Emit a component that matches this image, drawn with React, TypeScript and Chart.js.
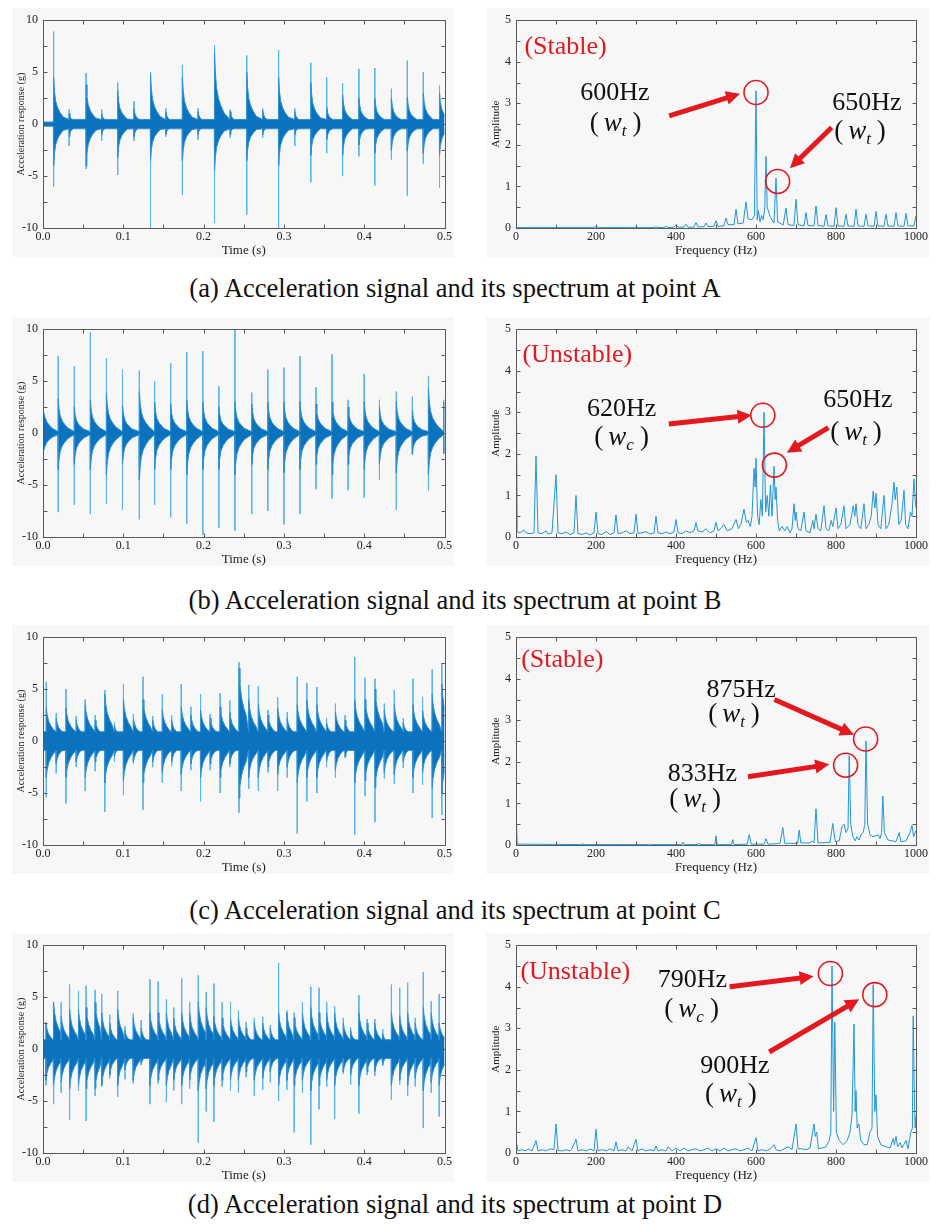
import React, { useEffect, useRef } from 'react';
import { Chart, registerables } from 'chart.js';

Chart.register(...registerables);

const SERIF = '"Liberation Serif", "Times New Roman", Times, serif';
const RED = '#e3191f';
const FRAME = '#5a5a5a';
const PANEL_BG = '#f7f7f7';
const DENSE = '#0b73bd';
const DENSE_EDGE = '#2f8fd2';
const SPIKE = '#5cb6e8';
const SPEC_LINE = '#2196d9';

// ---------- tick labels ----------
const timeTicks = ['0.0', '0.1', '0.2', '0.3', '0.4', '0.5'];
const accelTicks = ['-10', '-5', '0', '5', '10'];
const freqTicks = ['0', '200', '400', '600', '800', '1000'];
const ampTicks = ['0', '1', '2', '3', '4', '5'];

const captions = [
  '(a) Acceleration signal and its spectrum at point A',
  '(b) Acceleration signal and its spectrum at point B',
  '(c) Acceleration signal and its spectrum at point C',
  '(d) Acceleration signal and its spectrum at point D',
];

// ---------- time signal A ----------
const impactTimeA = [0.0132, 0.0326, 0.0537, 0.0731, 0.093, 0.1132, 0.1339, 0.1529, 0.1736, 0.193, 0.2136, 0.2331, 0.2537, 0.2736, 0.2934, 0.3136, 0.3335, 0.3533, 0.3731, 0.3934, 0.4132, 0.4339, 0.4537, 0.4736, 0.4938];
const spikeUpA = [8.9, 1.4, 4.9, 1.4, 4.0, 2.2, 5.0, 1.5, 5.7, 1.5, 7.6, 1.4, 6.6, 1.5, 7.1, 1.5, 5.9, 4.5, 3.9, 5.3, 5.4, 3.4, 6.1, 5.0, 3.7];
const spikeDownA = [-6.0, -2.1, -4.3, -1.6, -4.9, -1.6, -10, -1.2, -6.8, -1.5, -9.5, -1.3, -8.7, -1.3, -10, -2.1, -5.6, -2.8, -5.0, -3.1, -5.9, -3.4, -6.9, -3.8, -6.1];
const denseUpA = [4.5, 1.0, 3.8, 1.0, 3.2, 1.5, 4.8, 1.2, 4.5, 1.2, 7.0, 1.2, 5.0, 1.3, 4.5, 1.2, 4.0, 1.6, 2.8, 2.5, 2.5, 2.5, 2.6, 3.0, 3.0];
const denseDownA = [-4.0, -1.2, -4.0, -1.0, -3.2, -1.2, -3.5, -1.0, -3.5, -1.0, -4.5, -1.0, -3.5, -1.0, -4.0, -1.0, -3.0, -1.5, -3.0, -2.0, -2.8, -2.5, -2.6, -2.8, -3.0];

// ---------- time signal B ----------
const impactTimeB = [0.0, 0.019, 0.039, 0.059, 0.079, 0.099, 0.12, 0.139, 0.159, 0.179, 0.199, 0.219, 0.239, 0.26, 0.28, 0.3, 0.32, 0.34, 0.36, 0.38, 0.4, 0.419, 0.44, 0.46, 0.48, 0.499];
const spikeUpB = [7.5, 7.4, 6.4, 9.7, 7.2, 6.1, 6.0, 5.0, 6.7, 7.8, 7.9, 4.5, 10, 3.9, 6.1, 6.3, 7.4, 4.4, 7.6, 3.2, 5.7, 3.2, 4.0, 3.5, 5.5, 3.2];
const spikeDownB = [-3.0, -7.6, -6.9, -7.8, -6.8, -7.4, -8.3, -6.9, -8.1, -8.7, -9.8, -9.1, -9.4, -7.8, -7.5, -8.8, -7.8, -5.4, -6.3, -5.5, -6.2, -4.5, -7.4, -2.1, -5.5, -2.0];
const denseUpB = [3.0, 3.3, 2.5, 3.2, 3.8, 2.7, 4.0, 3.0, 2.8, 3.2, 3.0, 2.5, 3.0, 2.8, 3.0, 3.0, 3.0, 2.8, 3.0, 2.5, 3.0, 2.5, 3.0, 2.2, 4.3, 3.0];
const denseDownB = [-2.5, -3.5, -3.0, -3.5, -4.0, -3.0, -4.5, -3.5, -3.5, -4.0, -3.5, -3.5, -4.0, -3.0, -3.5, -3.8, -3.5, -3.0, -4.0, -3.0, -3.5, -3.0, -3.8, -2.0, -4.0, -2.0];

// ---------- time signal C ----------
const impactTimeC = [0.0041, 0.0165, 0.0286, 0.0414, 0.0526, 0.065, 0.077, 0.089, 0.1002, 0.1126, 0.1246, 0.1366, 0.1486, 0.1602, 0.1722, 0.1842, 0.1962, 0.2082, 0.2206, 0.2326, 0.2442, 0.2562, 0.2682, 0.2802, 0.2922, 0.3042, 0.3166, 0.3286, 0.3411, 0.3531, 0.3642, 0.3762, 0.3882, 0.4011, 0.4135, 0.4251, 0.4375, 0.4487, 0.4607, 0.4727, 0.4847, 0.4967];
const spikeUpC = [5.7, 2.7, 5.0, 2.4, 4.0, 2.5, 4.9, 1.8, 5.5, 2.6, 6.2, 2.4, 4.5, 2.5, 5.5, 3.3, 4.5, 2.6, 4.6, 3.9, 7.6, 5.4, 5.3, 3.0, 4.2, 2.8, 6.2, 5.6, 5.2, 2.2, 3.6, 2.5, 8.1, 6.1, 6.0, 3.6, 4.9, 2.2, 6.0, 4.2, 6.9, 7.5];
const spikeDownC = [-5.4, -3.1, -6.0, -2.5, -4.8, -2.9, -6.8, -2.0, -5.2, -2.2, -6.6, -2.5, -4.0, -2.4, -4.8, -2.8, -5.8, -2.8, -5.0, -2.5, -6.9, -4.6, -4.8, -3.0, -4.8, -3.5, -8.9, -5.8, -5.0, -2.5, -3.5, -1.6, -9.0, -5.3, -7.8, -3.6, -4.1, -2.6, -5.0, -4.2, -7.4, -7.1];
const denseUpC = [3.2, 2.2, 3.2, 2.0, 3.5, 2.0, 4.5, 1.5, 4.0, 2.2, 4.0, 2.0, 3.0, 2.0, 3.3, 2.5, 3.0, 2.2, 3.3, 2.8, 7.0, 4.0, 3.5, 2.5, 3.2, 2.2, 3.5, 4.0, 3.5, 1.8, 2.8, 2.0, 4.0, 4.0, 5.0, 3.0, 3.5, 1.8, 3.5, 3.0, 4.5, 5.5];
const denseDownC = [-3.5, -2.2, -3.5, -2.0, -3.5, -2.0, -4.0, -1.5, -3.8, -2.0, -4.0, -2.0, -3.0, -2.0, -3.2, -2.2, -3.5, -2.2, -3.5, -2.2, -5.5, -3.5, -3.5, -2.5, -3.2, -2.5, -4.0, -3.5, -3.5, -2.0, -2.8, -1.5, -4.0, -3.8, -4.5, -3.0, -3.2, -2.0, -3.5, -3.0, -4.5, -5.0];

// ---------- time signal D ----------
const impactTimeD = [0.0037, 0.0132, 0.0227, 0.0331, 0.0442, 0.0537, 0.0649, 0.0731, 0.0831, 0.093, 0.1021, 0.1124, 0.1223, 0.1331, 0.1434, 0.1537, 0.1628, 0.1727, 0.1826, 0.1934, 0.2033, 0.2128, 0.2231, 0.2335, 0.2434, 0.2529, 0.2632, 0.2736, 0.2831, 0.2934, 0.3037, 0.3128, 0.3231, 0.3335, 0.3438, 0.3533, 0.3632, 0.374, 0.3831, 0.3934, 0.4037, 0.4132, 0.4231, 0.4339, 0.4442, 0.4541, 0.4636, 0.4736, 0.4835, 0.4934];
const spikeUpD = [2.6, 4.5, 4.5, 6.2, 5.6, 6.1, 5.7, 5.3, 3.3, 5.6, 2.2, 3.4, 2.8, 6.7, 6.5, 4.8, 4.0, 6.8, 4.5, 7.1, 5.5, 6.3, 4.5, 4.5, 3.7, 2.6, 3.0, 3.1, 2.3, 8.3, 3.7, 3.5, 4.5, 6.0, 5.9, 4.5, 4.1, 3.0, 2.1, 5.2, 2.9, 2.9, 1.9, 6.2, 5.9, 6.4, 3.0, 7.4, 4.6, 5.3];
const spikeDownD = [-3.5, -5.3, -4.2, -6.8, -4.0, -6.9, -4.5, -3.6, -2.8, -4.6, -2.9, -3.3, -1.5, -5.3, -3.3, -5.1, -4.0, -5.3, -3.8, -9.0, -6.0, -7.0, -3.6, -4.0, -4.2, -2.7, -4.5, -3.9, -3.2, -5.0, -3.9, -8.0, -4.2, -9.2, -5.8, -3.6, -6.7, -2.4, -3.4, -6.2, -2.5, -2.6, -1.6, -4.9, -3.4, -4.5, -3.6, -7.6, -4.2, -6.5];
const denseUpD = [2.5, 4.5, 3.2, 3.8, 3.8, 4.0, 4.5, 3.5, 2.5, 3.8, 1.8, 3.0, 2.0, 3.5, 3.5, 3.5, 3.0, 3.5, 3.5, 4.5, 4.0, 3.2, 3.0, 3.0, 3.0, 2.0, 2.5, 2.5, 2.0, 3.5, 3.5, 3.0, 3.5, 4.0, 3.5, 3.5, 3.5, 2.5, 1.8, 3.5, 2.5, 2.5, 1.5, 3.5, 3.2, 3.5, 2.5, 4.0, 3.5, 2.5];
const denseDownD = [-3.0, -3.5, -3.2, -3.8, -3.5, -3.8, -3.8, -3.5, -2.5, -3.5, -2.0, -3.0, -1.5, -3.5, -3.0, -3.5, -3.0, -3.5, -3.0, -4.0, -3.8, -3.5, -3.0, -3.0, -3.0, -2.2, -3.0, -2.8, -2.2, -3.5, -3.0, -3.5, -3.0, -4.0, -3.5, -3.0, -3.5, -2.2, -2.5, -3.5, -2.2, -2.2, -1.5, -3.5, -3.0, -3.5, -2.8, -4.0, -3.2, -3.5];

// residual vibration level between impacts (g), and level before the first impact
const residualLevel = [0.45, 0.15, 0.9, 0.9];
const startLevel = [0.2, 0.15, 0.9, 0.9];

// decay shape of the ringing after an impact (seconds after impact, fraction of peak)
const decayOffsetsFast = [0, 0.001, 0.0025, 0.005, 0.008, 0.012];
const decayFractionsFast = [1, 0.72, 0.5, 0.35, 0.25, 0.15];
const decayOffsetsSlow = [0, 0.001, 0.003, 0.006, 0.009];
const decayFractionsSlow = [1, 0.8, 0.6, 0.45, 0.35];

// ---------- spectra: [frequency Hz, amplitude] vertices ----------
const spectrumA: [number, number][] = [
  [0, 0.01], [190, 0.01], [200, 0.03], [210, 0.01], [245, 0.01], [250, 0.02], [255, 0.01], [295, 0.01], [300, 0.02], [305, 0.01],
  [345, 0.01], [350, 0.03], [355, 0.01], [370, 0.01], [375, 0.04], [380, 0.01], [395, 0.02], [400, 0.08], [405, 0.02], [420, 0.02],
  [425, 0.09], [430, 0.02], [445, 0.02], [450, 0.13], [455, 0.03], [470, 0.03], [475, 0.12], [480, 0.03], [495, 0.04], [500, 0.18],
  [505, 0.04], [520, 0.05], [525, 0.24], [530, 0.08], [545, 0.08], [550, 0.45], [555, 0.1], [568, 0.12], [575, 0.63], [580, 0.22],
  [590, 0.2], [596, 0.3], [600, 3.3], [603, 0.2], [606, 0.42], [610, 0.15], [614, 0.3], [618, 0.2], [622, 0.5], [625, 1.72],
  [628, 0.5], [635, 0.28], [645, 0.12], [650, 1.2], [654, 0.15], [668, 0.07], [675, 0.48], [680, 0.08], [695, 0.06], [700, 0.69],
  [705, 0.08], [720, 0.05], [725, 0.37], [730, 0.06], [745, 0.05], [750, 0.53], [755, 0.06], [770, 0.04], [775, 0.32], [780, 0.05],
  [795, 0.04], [800, 0.49], [805, 0.05], [820, 0.04], [825, 0.33], [830, 0.05], [845, 0.04], [850, 0.45], [855, 0.05], [870, 0.04],
  [875, 0.33], [880, 0.05], [895, 0.04], [900, 0.4], [905, 0.05], [920, 0.04], [925, 0.33], [930, 0.05], [945, 0.04], [950, 0.37],
  [955, 0.05], [970, 0.04], [975, 0.35], [980, 0.05], [995, 0.05], [1000, 0.3],
];

const spectrumB: [number, number][] = [
  [0, 5.0], [3, 0.12], [10, 0.1], [20, 0.17], [25, 0.1], [35, 0.08], [45, 0.1], [50, 1.95], [55, 0.1], [65, 0.08], [75, 0.15],
  [80, 0.07], [90, 0.1], [100, 1.5], [105, 0.1], [115, 0.08], [125, 0.12], [135, 0.06], [145, 0.1], [150, 1.0], [155, 0.08],
  [165, 0.06], [175, 0.1], [185, 0.05], [195, 0.1], [200, 0.6], [205, 0.08], [215, 0.06], [225, 0.13], [235, 0.06], [245, 0.1],
  [250, 0.53], [255, 0.08], [265, 0.1], [275, 0.15], [285, 0.08], [295, 0.1], [300, 0.55], [305, 0.08], [315, 0.1], [325, 0.13],
  [335, 0.07], [345, 0.1], [350, 0.5], [355, 0.1], [365, 0.08], [375, 0.12], [385, 0.08], [395, 0.12], [400, 0.42], [405, 0.1],
  [415, 0.08], [425, 0.15], [435, 0.1], [445, 0.15], [450, 0.35], [455, 0.15], [465, 0.12], [475, 0.2], [485, 0.1], [495, 0.15],
  [500, 0.35], [505, 0.15], [512, 0.2], [520, 0.3], [528, 0.15], [540, 0.2], [550, 0.42], [556, 0.2], [562, 0.3], [570, 0.67],
  [576, 0.35], [580, 0.4], [586, 0.25], [590, 0.5], [595, 1.65], [598, 1.2], [600, 1.9], [604, 0.5], [608, 0.3], [612, 0.9],
  [616, 0.5], [620, 3.0], [624, 0.6], [628, 1.0], [632, 0.5], [636, 1.25], [640, 0.5], [645, 1.7], [648, 0.9], [650, 1.2],
  [654, 0.4], [658, 0.15], [665, 0.25], [672, 0.15], [678, 0.25], [685, 0.1], [690, 0.2], [695, 0.8], [698, 0.4], [700, 0.6],
  [705, 0.2], [712, 0.15], [720, 0.6], [725, 0.15], [735, 0.1], [742, 0.4], [745, 0.2], [750, 0.55], [755, 0.2], [762, 0.15],
  [770, 0.75], [775, 0.2], [782, 0.15], [788, 0.4], [792, 0.25], [800, 0.7], [805, 0.2], [812, 0.3], [820, 0.75], [825, 0.2],
  [835, 0.3], [843, 0.75], [847, 0.5], [850, 0.8], [855, 0.3], [862, 0.2], [870, 0.8], [875, 0.2], [882, 0.3], [888, 0.5],
  [893, 1.1], [897, 0.7], [900, 1.05], [905, 0.3], [912, 0.2], [920, 1.0], [925, 0.2], [932, 0.3], [940, 0.8], [945, 1.32],
  [948, 0.9], [952, 1.2], [957, 0.3], [963, 0.4], [970, 1.12], [974, 0.3], [980, 0.2], [986, 0.6], [990, 0.5], [995, 1.4],
  [998, 0.9], [1000, 0.7],
];

const spectrumC: [number, number][] = [
  [0, 0.9], [3, 0.02], [165, 0.01], [167, 0.03], [170, 0.01], [248, 0.01], [250, 0.02], [252, 0.01], [331, 0.01], [333, 0.03],
  [336, 0.01], [414, 0.01], [417, 0.07], [420, 0.01], [455, 0.01], [458, 0.05], [461, 0.01], [497, 0.01], [500, 0.22], [503, 0.01],
  [539, 0.01], [542, 0.13], [545, 0.01], [578, 0.02], [583, 0.25], [588, 0.02], [620, 0.02], [625, 0.15], [630, 0.02], [650, 0.03],
  [660, 0.04], [667, 0.42], [672, 0.04], [704, 0.04], [708, 0.36], [712, 0.05], [735, 0.05], [740, 0.1], [745, 0.05], [750, 0.87],
  [755, 0.05], [785, 0.06], [792, 0.52], [798, 0.08], [808, 0.1], [815, 0.45], [820, 0.5], [825, 0.3], [830, 0.4], [833, 2.15],
  [837, 0.5], [842, 0.2], [848, 0.1], [852, 0.2], [858, 0.12], [862, 0.25], [868, 0.3], [872, 0.5], [875, 2.5], [879, 0.5],
  [885, 0.25], [892, 0.2], [900, 0.22], [905, 0.25], [910, 0.15], [914, 0.3], [917, 1.18], [921, 0.3], [930, 0.12], [950, 0.08],
  [958, 0.3], [962, 0.08], [975, 0.1], [985, 0.3], [990, 0.47], [994, 0.2], [1000, 0.35],
];

const spectrumD: [number, number][] = [
  [0, 0.3], [5, 0.05], [15, 0.08], [25, 0.05], [30, 0.1], [40, 0.05], [50, 0.3], [55, 0.05], [65, 0.08], [75, 0.05], [85, 0.1],
  [95, 0.08], [100, 0.7], [105, 0.06], [115, 0.05], [125, 0.08], [135, 0.05], [140, 0.1], [150, 0.33], [155, 0.05], [165, 0.08],
  [175, 0.05], [185, 0.1], [195, 0.05], [200, 0.57], [205, 0.05], [215, 0.08], [225, 0.05], [235, 0.1], [245, 0.05], [250, 0.27],
  [255, 0.05], [265, 0.08], [275, 0.05], [280, 0.15], [290, 0.05], [300, 0.33], [305, 0.05], [315, 0.1], [325, 0.05], [335, 0.08],
  [345, 0.05], [350, 0.17], [355, 0.05], [365, 0.08], [375, 0.05], [380, 0.15], [390, 0.05], [400, 0.12], [410, 0.05], [420, 0.12],
  [430, 0.05], [440, 0.08], [450, 0.1], [460, 0.05], [470, 0.08], [480, 0.12], [490, 0.05], [500, 0.1], [510, 0.05], [520, 0.12],
  [530, 0.05], [540, 0.08], [550, 0.1], [560, 0.05], [570, 0.08], [580, 0.12], [590, 0.05], [600, 0.37], [605, 0.05], [615, 0.08],
  [625, 0.05], [635, 0.1], [645, 0.2], [650, 0.08], [660, 0.05], [670, 0.1], [680, 0.15], [690, 0.08], [700, 0.7], [705, 0.1],
  [715, 0.1], [725, 0.08], [735, 0.12], [745, 0.7], [748, 0.4], [752, 0.5], [756, 0.1], [765, 0.12], [775, 0.15], [783, 0.3],
  [787, 0.5], [790, 4.5], [794, 1.0], [797, 3.15], [801, 0.5], [808, 0.3], [818, 0.2], [828, 0.3], [835, 0.5], [840, 0.9],
  [845, 3.1], [848, 1.0], [850, 1.5], [853, 0.6], [857, 0.7], [862, 0.3], [870, 0.2], [878, 0.2], [885, 0.5], [890, 0.6],
  [893, 4.05], [897, 1.0], [900, 1.4], [904, 0.4], [912, 0.2], [925, 0.15], [935, 0.12], [943, 0.35], [946, 0.2], [950, 0.4],
  [954, 0.15], [960, 0.25], [965, 0.12], [975, 0.3], [980, 0.1], [987, 0.5], [991, 0.6], [993, 3.3], [996, 1.3], [998, 0.6],
  [1000, 0.9],
];

// ---------- spectrum annotations (data coordinates) ----------
type Note = {
  state: { text: string; f: number; a: number };
  labels: { text: string; sub: string; f: number; a: number; subF: number; subA: number }[];
  circles: { f: number; a: number }[];
  arrows: { f1: number; a1: number; f2: number; a2: number }[];
};

const notesA: Note = {
  state: { text: '(Stable)', f: 21, a: 4.36 },
  labels: [
    { text: '600Hz', sub: 't', f: 247, a: 3.25, subF: 249, subA: 2.54 },
    { text: '650Hz', sub: 't', f: 877, a: 3.01, subF: 860, subA: 2.37 },
  ],
  circles: [{ f: 600, a: 3.26 }, { f: 654, a: 1.12 }],
  arrows: [{ f1: 383, a1: 2.7, f2: 560, a2: 3.23 }, { f1: 789, a1: 2.42, f2: 685, a2: 1.44 }],
};
const notesB: Note = {
  state: { text: '(Unstable)', f: 16, a: 4.37 },
  labels: [
    { text: '620Hz', sub: 'c', f: 264, a: 3.08, subF: 264, subA: 2.42 },
    { text: '650Hz', sub: 't', f: 855, a: 3.29, subF: 850, subA: 2.54 },
  ],
  circles: [{ f: 617, a: 2.93 }, { f: 646, a: 1.73 }],
  arrows: [{ f1: 382, a1: 2.72, f2: 589, a2: 2.93 }, { f1: 781, a1: 2.63, f2: 677, a2: 2.03 }],
};
const notesC: Note = {
  state: { text: '(Stable)', f: 13, a: 4.45 },
  labels: [
    { text: '875Hz', sub: 't', f: 563, a: 3.73, subF: 545, subA: 3.18 },
    { text: '833Hz', sub: 't', f: 466, a: 1.71, subF: 448, subA: 1.12 },
  ],
  circles: [{ f: 874, a: 2.55 }, { f: 824, a: 1.92 }],
  arrows: [{ f1: 646, a1: 3.5, f2: 845, a2: 2.65 }, { f1: 580, a1: 1.64, f2: 783, a2: 1.94 }],
};
const notesD: Note = {
  state: { text: '(Unstable)', f: 11, a: 4.36 },
  labels: [
    { text: '790Hz', sub: 'c', f: 441, a: 4.15, subF: 439, subA: 3.49 },
    { text: '900Hz', sub: 't', f: 547, a: 2.08, subF: 537, subA: 1.44 },
  ],
  circles: [{ f: 786, a: 4.32 }, { f: 897, a: 3.81 }],
  arrows: [{ f1: 534, a1: 4.0, f2: 744, a2: 4.25 }, { f1: 633, a1: 2.43, f2: 858, a2: 3.7 }],
};

// ---------- layout ----------
const ROW_TOPS = [16, 325, 633, 941];
const CAPTION_BASELINES = [297, 609, 919, 1213];
const LEFT_CANVAS_X = 12;
const LEFT_CANVAS_W = 442;
const RIGHT_CANVAS_X = 486;
const RIGHT_CANVAS_W = 444;
const TOP_PAD = 8;
const PLOT_H = 212;
const X_AXIS_H = 29;
const CANVAS_H = TOP_PAD + PLOT_H + X_AXIS_H;

type Pt = { x: number; y: number | null };

function buildEnvelope(times: number[], peaks: number[], base: number, start: number, offs: number[], fracs: number[], sign: number): Pt[] {
  const pts: Pt[] = [{ x: 0, y: sign * start }];
  for (let i = 0; i < times.length; i++) {
    const t = times[i];
    const next = i + 1 < times.length ? times[i + 1] : 0.52;
    pts.push({ x: Math.max(0, t - 0.0003), y: sign * (i === 0 ? start : base) });
    for (let k = 0; k < offs.length; k++) {
      const x = t + offs[k];
      if (x >= next - 0.0004) break;
      pts.push({ x, y: sign * Math.max(base, Math.abs(peaks[i]) * fracs[k]) });
    }
  }
  pts.push({ x: 0.52, y: sign * base });
  return pts;
}

function buildSpikes(times: number[], up: number[], down: number[]): Pt[] {
  const pts: Pt[] = [];
  times.forEach((t, i) => {
    pts.push({ x: t, y: up[i] }, { x: t, y: down[i] }, { x: t, y: null });
  });
  return pts;
}

type TimeSpec = {
  kind: 'time';
  times: number[]; spikeUp: number[]; spikeDown: number[]; denseUp: number[]; denseDown: number[];
  base: number; start: number; slow: boolean;
};
type SpecSpec = { kind: 'spec'; spectrum: [number, number][]; notes: Note };
type PanelSpec = (TimeSpec | SpecSpec) & { left: number; top: number; width: number; axisW: number; padRight: number };

function drawArrow(ctx: CanvasRenderingContext2D, x1: number, y1: number, x2: number, y2: number) {
  const ang = Math.atan2(y2 - y1, x2 - x1);
  const head = 14;
  const hw = 7;
  const bx = x2 - head * Math.cos(ang);
  const by = y2 - head * Math.sin(ang);
  ctx.strokeStyle = RED;
  ctx.lineWidth = 5;
  ctx.lineCap = 'butt';
  ctx.beginPath();
  ctx.moveTo(x1, y1);
  ctx.lineTo(bx + Math.cos(ang), by + Math.sin(ang));
  ctx.stroke();
  ctx.fillStyle = RED;
  ctx.beginPath();
  ctx.moveTo(x2, y2);
  ctx.lineTo(bx - hw * Math.sin(ang), by + hw * Math.cos(ang));
  ctx.lineTo(bx + hw * Math.sin(ang), by - hw * Math.cos(ang));
  ctx.closePath();
  ctx.fill();
}

function drawWSub(ctx: CanvasRenderingContext2D, cx: number, cy: number, sub: string) {
  const up = `27px ${SERIF}`;
  const it = `italic 27px ${SERIF}`;
  const sm = `italic 17px ${SERIF}`;
  const gap = 5;
  ctx.font = up;
  const wp = ctx.measureText('(').width;
  ctx.font = it;
  const ww = ctx.measureText('w').width;
  ctx.font = sm;
  const ws = ctx.measureText(sub).width;
  const total = wp + gap + ww + ws + 1 + gap + wp;
  let x = cx - total / 2;
  const base = cy + 9;
  ctx.fillStyle = '#111';
  ctx.textAlign = 'left';
  ctx.textBaseline = 'alphabetic';
  ctx.font = up;
  ctx.fillText('(', x, base);
  x += wp + gap;
  ctx.font = it;
  ctx.fillText('w', x, base);
  x += ww;
  ctx.font = sm;
  ctx.fillText(sub, x, base + 5);
  x += ws + 1 + gap;
  ctx.font = up;
  ctx.fillText(')', x, base);
}

function decorPlugin(spec: PanelSpec) {
  return {
    id: 'decor',
    beforeDraw(chart: any) {
      const ctx = chart.ctx as CanvasRenderingContext2D;
      ctx.save();
      ctx.fillStyle = PANEL_BG;
      ctx.fillRect(0, 0, chart.width, chart.height);
      ctx.restore();
    },
    afterDraw(chart: any) {
      const ctx = chart.ctx as CanvasRenderingContext2D;
      const a = chart.chartArea;
      const xs = chart.scales.x;
      const ys = chart.scales.y;
      const L = Math.round(a.left) + 0.5;
      const R = Math.round(a.right) + 0.5;
      const T = Math.round(a.top) + 0.5;
      const B = Math.round(a.bottom) + 0.5;
      ctx.save();
      ctx.strokeStyle = FRAME;
      ctx.lineWidth = 1;
      ctx.strokeRect(L, T, R - L, B - T);
      const isTime = spec.kind === 'time';
      const xStep = isTime ? 0.05 : 100;
      const xMax = isTime ? 0.5 : 1000;
      const yStep = isTime ? 2.5 : 0.5;
      const yMin = isTime ? -10 : 0;
      const yMax = isTime ? 10 : 5;
      const tl = 4;
      ctx.beginPath();
      for (let k = 1; k * xStep < xMax - 1e-9; k++) {
        const px = Math.round(xs.getPixelForValue(k * xStep)) + 0.5;
        ctx.moveTo(px, B); ctx.lineTo(px, B - tl);
        ctx.moveTo(px, T); ctx.lineTo(px, T + tl);
      }
      for (let k = 1; yMin + k * yStep < yMax - 1e-9; k++) {
        const py = Math.round(ys.getPixelForValue(yMin + k * yStep)) + 0.5;
        ctx.moveTo(L, py); ctx.lineTo(L + tl, py);
        ctx.moveTo(R, py); ctx.lineTo(R - tl, py);
      }
      ctx.stroke();

      // axis titles
      ctx.fillStyle = '#222';
      ctx.textAlign = 'center';
      ctx.textBaseline = 'middle';
      ctx.font = `13px ${SERIF}`;
      ctx.fillText(isTime ? 'Time (s)' : 'Frequency (Hz)', (a.left + a.right) / 2, a.bottom + 23);
      ctx.save();
      ctx.translate(a.left - (isTime ? 22 : 20), (a.top + a.bottom) / 2);
      ctx.rotate(-Math.PI / 2);
      ctx.font = isTime ? `10px ${SERIF}` : `11px ${SERIF}`;
      ctx.fillText(isTime ? 'Acceleration response (g)' : 'Amplitude', 0, 0);
      ctx.restore();

      if (spec.kind === 'spec') {
        const n = spec.notes;
        const X = (f: number) => xs.getPixelForValue(f);
        const Y = (v: number) => ys.getPixelForValue(v);
        ctx.fillStyle = RED;
        ctx.font = `26px ${SERIF}`;
        ctx.textAlign = 'left';
        ctx.textBaseline = 'middle';
        ctx.fillText(n.state.text, X(n.state.f), Y(n.state.a));
        n.arrows.forEach((ar) => drawArrow(ctx, X(ar.f1), Y(ar.a1), X(ar.f2), Y(ar.a2)));
        ctx.strokeStyle = RED;
        ctx.lineWidth = 1.6;
        n.circles.forEach((c) => {
          ctx.beginPath();
          ctx.arc(X(c.f), Y(c.a), 12, 0, Math.PI * 2);
          ctx.stroke();
        });
        n.labels.forEach((lb) => {
          ctx.fillStyle = '#111';
          ctx.font = `26px ${SERIF}`;
          ctx.textAlign = 'center';
          ctx.textBaseline = 'middle';
          ctx.fillText(lb.text, X(lb.f), Y(lb.a));
          drawWSub(ctx, X(lb.subF), Y(lb.subA), lb.sub);
        });
      }
      ctx.restore();
    },
  };
}

function makeConfig(spec: PanelSpec): any {
  const isTime = spec.kind === 'time';
  let datasets: any[] = [];
  if (spec.kind === 'time') {
    const offs = spec.slow ? decayOffsetsSlow : decayOffsetsFast;
    const fracs = spec.slow ? decayFractionsSlow : decayFractionsFast;
    datasets = [
      {
        data: buildEnvelope(spec.times, spec.denseUp, spec.base, spec.start, offs, fracs, 1),
        borderColor: DENSE_EDGE, backgroundColor: DENSE, borderWidth: 1, fill: 'origin', order: 1,
      },
      {
        data: buildEnvelope(spec.times, spec.denseDown, spec.base, spec.start, offs, fracs, -1),
        borderColor: DENSE_EDGE, backgroundColor: DENSE, borderWidth: 1, fill: 'origin', order: 1,
      },
      {
        data: buildSpikes(spec.times, spec.spikeUp, spec.spikeDown),
        borderColor: SPIKE, borderWidth: 1, fill: false, spanGaps: false, order: 2,
      },
    ];
  } else {
    datasets = [
      {
        data: spec.spectrum.map(([f, v]) => ({ x: f, y: v })),
        borderColor: SPEC_LINE, borderWidth: 1, fill: false,
      },
    ];
  }
  const xLabels = isTime ? timeTicks : freqTicks;
  const yLabels = isTime ? accelTicks : ampTicks;
  const tickFont = { family: SERIF, size: 12 };
  return {
    type: 'line',
    data: { datasets },
    options: {
      animation: false,
      responsive: false,
      maintainAspectRatio: false,
      events: [],
      layout: { autoPadding: false, padding: { left: 0, right: spec.padRight, top: TOP_PAD, bottom: 0 } },
      plugins: { legend: { display: false }, tooltip: { enabled: false }, title: { display: false } },
      elements: { point: { radius: 0 }, line: { tension: 0 } },
      scales: {
        x: {
          type: 'linear',
          min: 0,
          max: isTime ? 0.5 : 1000,
          afterFit: (s: any) => { s.height = X_AXIS_H; },
          grid: { display: false, drawTicks: false },
          border: { display: false },
          ticks: {
            stepSize: isTime ? 0.1 : 200,
            autoSkip: false,
            maxRotation: 0,
            padding: 2,
            font: tickFont,
            color: '#222',
            callback: (_v: any, i: number) => xLabels[i],
          },
        },
        y: {
          type: 'linear',
          min: isTime ? -10 : 0,
          max: isTime ? 10 : 5,
          afterFit: (s: any) => { s.width = spec.axisW; },
          grid: { display: false, drawTicks: false },
          border: { display: false },
          ticks: {
            stepSize: isTime ? 5 : 1,
            autoSkip: false,
            padding: 5,
            font: tickFont,
            color: '#222',
            callback: (_v: any, i: number) => yLabels[i],
          },
        },
      },
    },
    plugins: [decorPlugin(spec)],
  };
}

function Panel({ spec }: { spec: PanelSpec }) {
  const ref = useRef<HTMLCanvasElement | null>(null);
  useEffect(() => {
    if (!ref.current) return;
    const chart = new Chart(ref.current, makeConfig(spec));
    return () => chart.destroy();
  }, []);
  return (
    <canvas
      ref={ref}
      width={spec.width}
      height={CANVAS_H}
      style={{ position: 'absolute', left: spec.left, top: spec.top, width: spec.width, height: CANVAS_H }}
    />
  );
}

const timeData = [
  { times: impactTimeA, spikeUp: spikeUpA, spikeDown: spikeDownA, denseUp: denseUpA, denseDown: denseDownA, slow: false },
  { times: impactTimeB, spikeUp: spikeUpB, spikeDown: spikeDownB, denseUp: denseUpB, denseDown: denseDownB, slow: false },
  { times: impactTimeC, spikeUp: spikeUpC, spikeDown: spikeDownC, denseUp: denseUpC, denseDown: denseDownC, slow: true },
  { times: impactTimeD, spikeUp: spikeUpD, spikeDown: spikeDownD, denseUp: denseUpD, denseDown: denseDownD, slow: true },
];
const spectra = [spectrumA, spectrumB, spectrumC, spectrumD];
const notes = [notesA, notesB, notesC, notesD];

export default function App() {
  const panels: PanelSpec[] = [];
  ROW_TOPS.forEach((top, r) => {
    panels.push({
      kind: 'time', ...timeData[r], base: residualLevel[r], start: startLevel[r],
      left: LEFT_CANVAS_X, top: top - TOP_PAD, width: LEFT_CANVAS_W, axisW: 31, padRight: LEFT_CANVAS_W - 31 - 403,
    } as PanelSpec);
    panels.push({
      kind: 'spec', spectrum: spectra[r], notes: notes[r],
      left: RIGHT_CANVAS_X, top: top - TOP_PAD, width: RIGHT_CANVAS_W, axisW: 30, padRight: RIGHT_CANVAS_W - 30 - 403,
    } as PanelSpec);
  });
  return (
    <div style={{ position: 'absolute', left: 0, top: 0, width: 937, height: 1224, background: '#fff', overflow: 'hidden' }}>
      {panels.map((p, i) => <Panel key={i} spec={p} />)}
      {captions.map((c, r) => (
        <div
          key={c}
          style={{
            position: 'absolute', left: 0, width: 910, top: CAPTION_BASELINES[r] - 23.5, height: 28, lineHeight: '28px',
            textAlign: 'center', fontFamily: SERIF, fontSize: 26.5, color: '#111', whiteSpace: 'nowrap',
          }}
        >
          {c}
        </div>
      ))}
    </div>
  );
}
